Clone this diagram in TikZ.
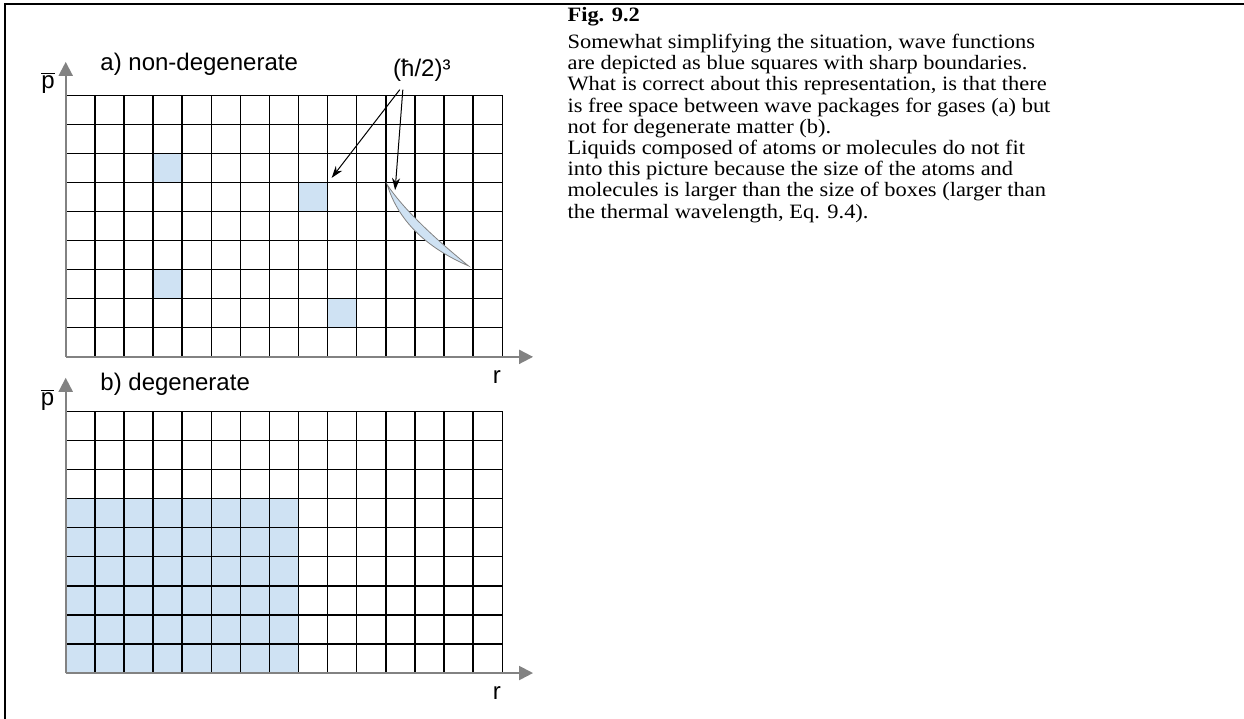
\documentclass[tikz,border=0pt]{standalone}
\usepackage{fontspec}
\setmainfont{Liberation Serif}
\newfontfamily\lblfont{Liberation Sans}
\usetikzlibrary{arrows.meta}
\definecolor{cellblue}{RGB}{207,226,243}
\definecolor{axisgray}{RGB}{130,130,130}

\begin{document}
\begin{tikzpicture}[x=14.55pt, y=14.53pt,
  axis/.style={draw=axisgray, line width=1pt, -{Triangle[length=7pt,width=7pt]}},
  gridline/.style={line width=.7pt},
  packet/.style={fill=cellblue},
  lbl/.style={font=\lblfont\fontsize{12}{14}\selectfont, inner sep=0pt},
  pointer/.style={line width=.5pt, -{Stealth[length=6pt,width=4pt]}}]
\useasboundingbox (-2.258,-12.45) rectangle (40.49,12.28);
% frame
\draw[line width=1pt] (-2.086,-12.45) -- (-2.086,12.14) -- (40.49,12.14);

% a) non-degenerate
\foreach \c/\r in {3/6,8/5,3/2,9/1}
  \fill[packet] (\c,\r) rectangle ++(1,1);
\draw[gridline, step=1] (0,0) grid (15,9);
\draw[packet, draw=axisgray, line width=.4pt] (11.05,5.92)
  .. controls (11.42,4.71) and (12.35,3.78) .. (13.84,3.13)
  .. controls (12.48,4.24) and (11.55,5.17) .. cycle;
\draw[axis] (0,0) -- (0,10.15);
\draw[axis] (0,0) -- (16.06,0);
\node[lbl, anchor=west] (titleA) at (1.18,10.08) {a) non-degenerate};
\node[lbl] (pA) at (-0.61,9.43) {$\overline{\mbox{p}}$};
\node[lbl] (rA) at (14.82,-0.69) {r};
\node[lbl] (hbar) at (12.24,9.87) {(ħ/2)³};
\coordinate (tipA) at (9.14,6.16);
\coordinate (tipB) at (11.32,5.74);
\draw[pointer] ([xshift=3.5pt,yshift=-4pt]hbar.south west) -- (tipA);
\draw[pointer] ([xshift=5pt,yshift=-4pt]hbar.south west) -- (tipB);

% b) degenerate
\begin{scope}[shift={(0,-10.88)}]
\fill[packet] (0,0) rectangle (8,6);
\draw[gridline, step=1] (0,0) grid (15,9);
\draw[axis] (0,0) -- (0,10.16);
\draw[axis] (0,0) -- (16.06,0);
\node[lbl, anchor=west] (titleB) at (1.18,9.92) {b) degenerate};
\node[lbl] (pB) at (-0.62,9.40) {$\overline{\mbox{p}}$};
\node[lbl] (rB) at (14.82,-0.68) {r};
\end{scope}

% caption
\node[anchor=north west, inner sep=0pt, align=left, xscale=1.1, transform shape,
  font=\fontsize{10.2}{10.6}\selectfont] (caption) at (17.23,12.05)
  {\textbf{Fig. 9.2}\\[3pt]
   Somewhat simplifying the situation, wave functions\\
   are depicted as blue squares with sharp boundaries.\\
   What is correct about this representation, is that there\\
   is free space between wave packages for gases (a) but\\
   not for degenerate matter (b).\\
   Liquids composed of atoms or molecules do not fit\\
   into this picture because the size of the atoms and\\
   molecules is larger than the size of boxes (larger than\\
   the thermal wavelength, Eq. 9.4).};
\end{tikzpicture}
\end{document}
